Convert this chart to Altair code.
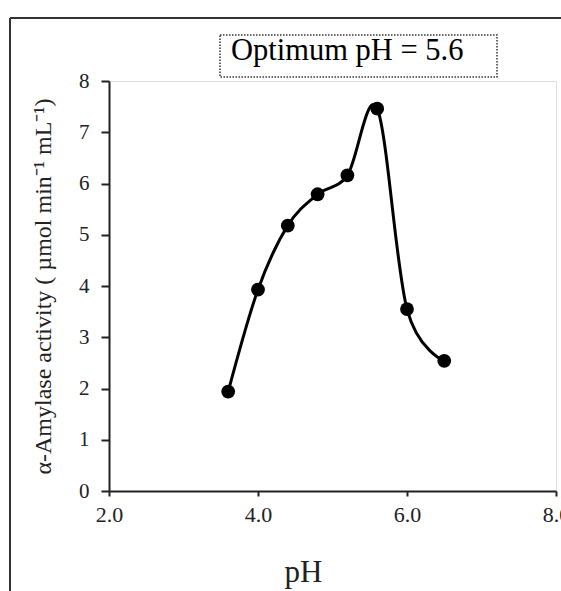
import altair as alt
import pandas as pd

ph = [3.6, 4.0, 4.4, 4.8, 5.2, 5.6, 6.0, 6.5]
activity = [1.94, 3.93, 5.18, 5.79, 6.16, 7.46, 3.55, 2.54]
x_ticks = [2, 4, 6, 8]
y_ticks = [0, 1, 2, 3, 4, 5, 6, 7, 8]
annotation = "Optimum pH = 5.6"
y_title = "α-Amylase activity ( µmol min⁻¹ mL⁻¹)"
x_title = "pH"

df = pd.DataFrame({"ph": ph, "activity": activity})
SERIF = "Liberation Serif, Times New Roman, serif"

x_enc = alt.X(
    "ph:Q",
    scale=alt.Scale(domain=[2, 8], nice=False, zero=False),
    axis=alt.Axis(
        values=x_ticks, format=".1f", grid=False, domainColor="#222",
        domainWidth=2, tickColor="#222", tickWidth=2, tickSize=5,
        labelFont=SERIF, labelFontSize=22, labelColor="#222", labelPadding=8,
        title=x_title, titleFont=SERIF, titleFontSize=31, titleFontWeight="normal",
        titleColor="#222", titleX=194, titleY=90, titleBaseline="alphabetic",
        titleAnchor="start", titleAlign="center", labelFlush=False,
    ),
)
y_enc = alt.Y(
    "activity:Q",
    scale=alt.Scale(domain=[0, 8], nice=False),
    axis=alt.Axis(
        values=y_ticks, grid=False, domainColor="#222", domainWidth=2,
        tickColor="#222", tickWidth=2, tickSize=8, labelFont=SERIF,
        labelFontSize=21, labelColor="#222", labelPadding=12,
        title=y_title, titleFont=SERIF, titleFontSize=24,
        titleFontWeight="normal", titleColor="#222", titlePadding=23,
    ),
)

line = alt.Chart(df).mark_line(
    interpolate="cardinal", color="black", strokeWidth=3
).encode(x=x_enc, y=y_enc)

points = alt.Chart(df).mark_point(
    filled=True, color="black", size=190, opacity=1, shape="circle"
).encode(x="ph:Q", y="activity:Q")

ann_df = pd.DataFrame({"label": [annotation]})
box = alt.Chart(ann_df).mark_rect(
    fill="white", stroke="#333", strokeWidth=1.5, strokeDash=[1.5, 1.5]
).encode(x=alt.value(111), x2=alt.value(388), y=alt.value(-46), y2=alt.value(-4))
ann_text = alt.Chart(ann_df).mark_text(
    font=SERIF, fontSize=30.5, color="black", align="left", baseline="alphabetic"
).encode(x=alt.value(122), y=alt.value(-21), text="label:N")

frame_left = alt.Chart(ann_df).mark_rule(color="#333", strokeWidth=2).encode(
    x=alt.value(-99), y=alt.value(-63), y2=alt.value(520)
)
frame_top = alt.Chart(ann_df).mark_rule(color="#333", strokeWidth=2).encode(
    x=alt.value(-99), x2=alt.value(460), y=alt.value(-63)
)

chart = alt.layer(frame_left, frame_top, box, ann_text, line, points).properties(
    width=447,
    height=410,
    padding={"left": 109, "top": 81, "right": 5, "bottom": 100},
    autosize=alt.AutoSizeParams(type="none"),
).configure_view(strokeWidth=0, stroke="transparent").configure(background="white")

chart.save("out.html", embed_options={"renderer": "svg", "actions": False})
